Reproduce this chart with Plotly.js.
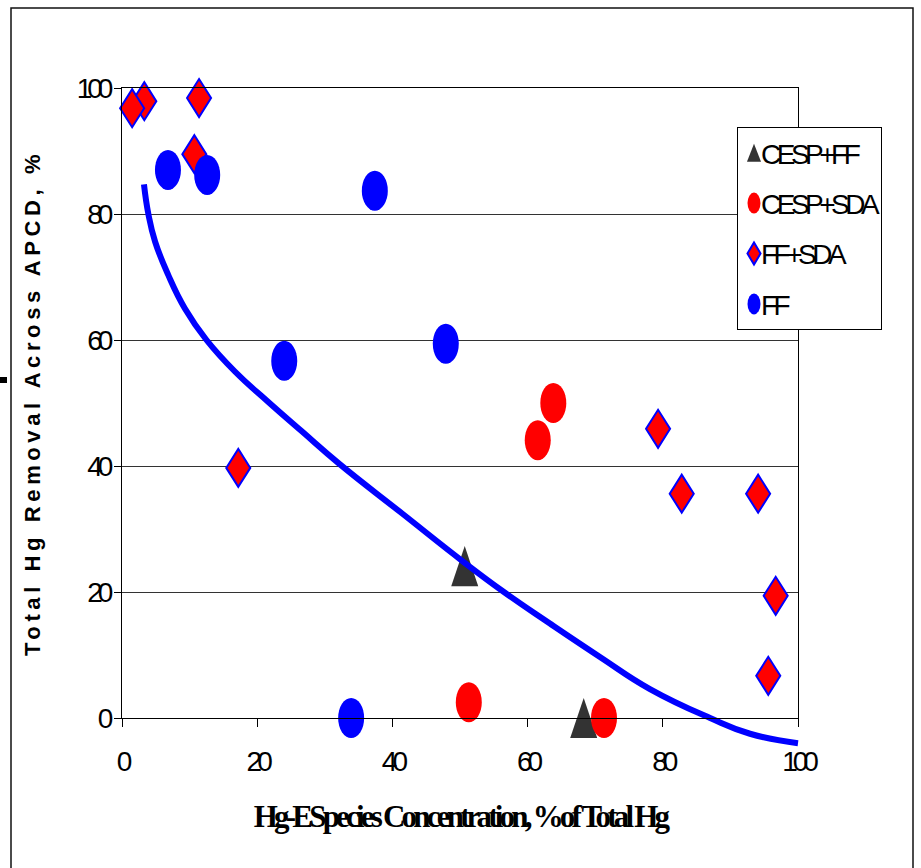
<!DOCTYPE html>
<html><head><meta charset="utf-8">
<script src="https://cdn.plot.ly/plotly-3.0.1.min.js"></script>
<style>body{margin:0;background:#fff}#chart{width:921px;height:868px}</style>
</head><body><div id="chart"></div>
<script>
// ---- data ----
const cespFF_x = [50.7, 68.3];
const cespFF_y = [24.1, 0.0];
const cespSDA_x = [63.8, 61.5, 51.3, 71.3];
const cespSDA_y = [50.0, 44.1, 2.5, 0.0];
const ffSDA_x = [3.3, 1.5, 11.4, 10.7, 17.2, 79.3, 82.8, 94.1, 96.7, 95.6];
const ffSDA_y = [97.9, 96.8, 98.4, 89.5, 39.7, 45.9, 35.6, 35.6, 19.4, 6.7];
const ff_x = [6.8, 12.6, 37.4, 24.0, 47.9, 33.9];
const ff_y = [87.0, 86.2, 83.7, 56.7, 59.4, 0.0];
// trend curve, points
const fit_x = [3.25, 3.9, 4.9, 6.85, 9.3, 12.5, 16.7, 21.6, 26.6, 32.2, 41.4, 50.5, 56.5, 63.3, 70.7, 78.1, 87.0, 92.9, 100];
const fit_y = [84.7, 80.0, 75.6, 70.3, 65.0, 60.0, 55.0, 50.2, 45.5, 40.3, 32.5, 24.8, 20.0, 15.0, 9.7, 4.6, 0.0, -2.5, -4.0];
const seriesNames = ['CESP+FF', 'CESP+SDA', 'FF+SDA', 'FF'];
const xTicks = [0, 20, 40, 60, 80, 100];
const yTicks = [0, 20, 40, 60, 80, 100];
const xTitle = 'Hg-ESpecies Concentration, %of Total Hg';
const yTitle = 'Total Hg Removal Across APCD, %';

const data = [
  {x: cespFF_x, y: cespFF_y, name: seriesNames[0], legendgroup: 'a', type: 'scatter', mode: 'markers', cliponaxis: false,
   marker: {symbol: 'triangle-up', size: 23.4, color: '#333333', line: {width: 0}}},
  {x: cespSDA_x, y: cespSDA_y, name: seriesNames[1], legendgroup: 'b', type: 'scatter', mode: 'markers', cliponaxis: false,
   marker: {symbol: 'circle', size: 26, color: '#ff0000', line: {width: 0}}},
  {x: ffSDA_x, y: ffSDA_y, name: seriesNames[2], legendgroup: 'c', type: 'scatter', mode: 'markers', cliponaxis: false,
   marker: {symbol: 'diamond', size: 18.5, color: '#ff0000', line: {width: 2, color: '#0000ff'}}},
  {x: ff_x, y: ff_y, name: seriesNames[3], legendgroup: 'd', type: 'scatter', mode: 'markers', cliponaxis: false,
   marker: {symbol: 'circle', size: 26, color: '#0000ff', line: {width: 0}}},
  {x: fit_x, y: fit_y, type: 'scatter', mode: 'lines', showlegend: false, cliponaxis: false,
   line: {color: '#0000ff', width: 6, shape: 'spline', smoothing: 1.3}}
];

const W = 676, H = 630, L = 122, T = 88;
const px = v => (v - L) / W;
const py = v => (T + H - v) / H;

const layout = {
  width: 921, height: 868,
  margin: {l: 122, r: 123, t: 88, b: 150, autoexpand: false},
  paper_bgcolor: '#fff', plot_bgcolor: '#fff',
  showlegend: true,
  legend: {x: px(737), y: py(127), xanchor: 'left', yanchor: 'top', bordercolor: '#000', borderwidth: 1,
           bgcolor: '#fff', traceorder: 'grouped', tracegroupgap: 11,
           font: {family: 'Liberation Sans, Arial', size: 28, color: '#000'}},
  xaxis: {range: [0, 100], tickvals: xTicks, ticktext: xTicks.map(String), ticks: 'outside', ticklen: 8, tickcolor: '#000',
          showline: true, linecolor: '#000', linewidth: 1, mirror: true, showgrid: false, zeroline: false,
          ticklabelstandoff: 10,
          tickfont: {family: 'Liberation Sans, Arial', size: 28, color: '#000'},
          title: {text: '<b>' + xTitle + '</b>', standoff: 29, font: {family: 'Liberation Serif, Times New Roman', size: 31, color: '#000'}}},
  yaxis: {range: [0, 100], tickvals: yTicks, ticktext: yTicks.map(String), ticks: 'outside', ticklen: 7, tickcolor: '#000',
          showline: true, linecolor: '#000', linewidth: 1, mirror: true, showgrid: true, gridcolor: '#333', gridwidth: 1, zeroline: false,
          ticklabelstandoff: 0,
          tickfont: {family: 'Liberation Sans, Arial', size: 28, color: '#000'},
          title: {text: '<b>' + yTitle + '</b>', standoff: 14, font: {family: 'Liberation Sans, Arial', size: 22, color: '#000'}}},
  shapes: [
    {type: 'rect', xref: 'paper', yref: 'paper', x0: px(11), x1: px(913), y0: py(880), y1: py(8), line: {color: '#111', width: 1.5}, fillcolor: 'rgba(0,0,0,0)', layer: 'below'},
    {type: 'rect', xref: 'paper', yref: 'paper', x0: px(0), x1: px(7), y0: py(383), y1: py(377), line: {width: 0}, fillcolor: '#000'}
  ]
};

const markCfg = [
  {dx: 0, sx: 1, sy: 2.29, dy: 6.7},
  {dx: 0, sx: 1, sy: 1.54, dy: 0},
  {dx: 0, sx: 1, sy: 1.58, dy: 0},
  {dx: 0, sx: 1, sy: 1.54, dy: 0}
];
const legCfg = [
  {dx: -4, sx: 0.76, sy: 1.5, dy: 3},
  {dx: -4, sx: 0.81, sy: 1.31, dy: 0},
  {dx: -4, sx: 0.63, sy: 1.06, dy: 0},
  {dx: -4, sx: 0.81, sy: 1.31, dy: 0}
];

function applyT(p, c) {
  if (!p.dataset.base) p.dataset.base = p.getAttribute('transform') || '';
  p.setAttribute('transform', 'translate(' + c.dx + ',0) ' + p.dataset.base + ' translate(0,' + c.dy + ') scale(' + c.sx + ',' + c.sy + ')');
  p.style.vectorEffect = 'non-scaling-stroke';
}

function fix() {
  const gd = document.getElementById('chart');
  const traces = gd.querySelectorAll('.scatterlayer .trace');
  markCfg.forEach((c, i) => {
    if (traces[i]) traces[i].querySelectorAll('path.point').forEach(p => applyT(p, c));
  });
  gd.querySelectorAll('.cartesianlayer [clip-path]').forEach(e => e.removeAttribute('clip-path'));
  const legTraces = gd.querySelectorAll('.legend .traces');
  legTraces.forEach((g, i) => {
    const c = legCfg[i];
    if (!c) return;
    g.querySelectorAll('path.scatterpts').forEach(p => applyT(p, c));
    const t = g.querySelector('text.legendtext');
    if (t) { t.style.letterSpacing = '-4.5px'; t.setAttribute('x', 23); }
  });
  const bg = gd.querySelector('.legend rect.bg');
  if (bg) bg.setAttribute('width', 144);
  gd.querySelectorAll('.xtick text, .ytick text').forEach(t => t.style.letterSpacing = '-5px');
  const xt = gd.querySelector('.xtitle'); if (xt) xt.style.letterSpacing = '-3.8px';
  const yt = gd.querySelector('.ytitle'); if (yt) yt.style.letterSpacing = '4.6px';
}

Plotly.newPlot('chart', data, layout, {staticPlot: true}).then(fix);
</script>
</body></html>
